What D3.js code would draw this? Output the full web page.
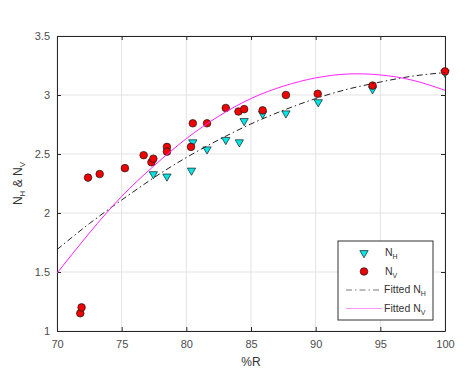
<!DOCTYPE html>
<html>
<head>
<meta charset="utf-8">
<script src="https://cdn.jsdelivr.net/npm/d3@7"></script>
<style>
  body { margin: 0; background: #fff; }
  svg { font-family: "Liberation Sans", Arial, sans-serif; }
</style>
</head>
<body>
<div id="chart"></div>
<script>
// Measured N_H values (%R, N)
const nhR = [77.45, 78.5, 80.4, 80.5, 81.6, 83.05, 84.1, 84.47, 85.9, 87.7, 90.2, 94.4, 100];
const nhVal = [2.33, 2.31, 2.36, 2.60, 2.54, 2.62, 2.60, 2.78, 2.84, 2.845, 2.94, 3.05, 3.19];

// Measured N_V values
const nvR = [71.8, 71.9, 72.4, 73.3, 75.25, 76.7, 77.3, 77.45, 78.5, 78.5, 80.36, 80.5, 81.6, 83.05, 84.03, 84.47, 85.9, 87.7, 90.16, 94.4, 100];
const nvVal = [1.15, 1.20, 2.30, 2.33, 2.38, 2.49, 2.43, 2.46, 2.56, 2.52, 2.56, 2.76, 2.76, 2.89, 2.86, 2.88, 2.87, 3.00, 3.01, 3.08, 3.20];

// Fitted curves, every 2.5 %R
const fitR = [70, 72.5, 75, 77.5, 80, 82.5, 85, 87.5, 90, 92.5, 95, 97.5, 100];
const fitNH = [1.69, 1.91, 2.11, 2.30, 2.47, 2.62, 2.755, 2.87, 2.97, 3.05, 3.11, 3.16, 3.19];
const fitNV = [1.49, 1.83, 2.14, 2.40, 2.63, 2.82, 2.97, 3.075, 3.145, 3.178, 3.17, 3.125, 3.04];

const xTicks = [70, 75, 80, 85, 90, 95, 100];
const yTicks = [1, 1.5, 2, 2.5, 3, 3.5];

const width = 467;
const height = 387;
const margin = { top: 36, right: 22, bottom: 56, left: 57 };
const innerW = width - margin.left - margin.right;
const innerH = height - margin.top - margin.bottom;

const axisColor = "#262626";
const gridColor = "#e3e3e3";

const svg = d3.select("#chart").append("svg").attr("width", width).attr("height", height);
const g = svg.append("g").attr("transform", `translate(${margin.left},${margin.top})`);

const x = d3.scaleLinear().domain([70, 100]).range([0, innerW]);
const y = d3.scaleLinear().domain([1, 3.5]).range([innerH, 0]);

// grid
g.append("g")
  .selectAll("line")
  .data(xTicks)
  .join("line")
  .attr("x1", (d) => x(d))
  .attr("x2", (d) => x(d))
  .attr("y1", 0)
  .attr("y2", innerH)
  .attr("stroke", gridColor);
g.append("g")
  .selectAll("line")
  .data(yTicks)
  .join("line")
  .attr("x1", 0)
  .attr("x2", innerW)
  .attr("y1", (d) => y(d))
  .attr("y2", (d) => y(d))
  .attr("stroke", gridColor);

// axes (ticks inward, box on)
function styleAxis(sel) {
  sel.select(".domain").attr("stroke", axisColor);
  sel.selectAll(".tick line").attr("stroke", axisColor);
  sel.selectAll(".tick text").attr("fill", "#4d4d4d").attr("font-size", 11);
}
g.append("g")
  .attr("transform", `translate(0,${innerH})`)
  .call(d3.axisBottom(x).tickValues(xTicks).tickSize(-4).tickSizeOuter(0).tickPadding(9).tickFormat(d3.format("d")))
  .call(styleAxis);
g.append("g")
  .call(d3.axisLeft(y).tickValues(yTicks).tickSize(-4).tickSizeOuter(0).tickPadding(7).tickFormat((d) => String(d)))
  .call(styleAxis);
g.append("g")
  .call(d3.axisTop(x).tickValues(xTicks).tickSize(-4).tickSizeOuter(0).tickFormat(""))
  .call(styleAxis);
g.append("g")
  .attr("transform", `translate(${innerW},0)`)
  .call(d3.axisRight(y).tickValues(yTicks).tickSize(-4).tickSizeOuter(0).tickFormat(""))
  .call(styleAxis);

// markers
const tri = d3.symbol().type(d3.symbolTriangle).size(30);
g.append("g")
  .selectAll("path")
  .data(nhR.map((r, i) => [r, nhVal[i]]))
  .join("path")
  .attr("d", tri)
  .attr("transform", (d) => `translate(${x(d[0])},${y(d[1])}) rotate(180)`)
  .attr("fill", "#00e6e6")
  .attr("stroke", "#1a1a1a")
  .attr("stroke-width", 0.7);

g.append("g")
  .selectAll("circle")
  .data(nvR.map((r, i) => [r, nvVal[i]]))
  .join("circle")
  .attr("cx", (d) => x(d[0]))
  .attr("cy", (d) => y(d[1]))
  .attr("r", 3.8)
  .attr("fill", "#f00000")
  .attr("stroke", "#1a1a1a")
  .attr("stroke-width", 0.7);

// fitted lines
const line = d3.line().curve(d3.curveNatural);
g.append("path")
  .datum(fitR.map((r, i) => [x(r), y(fitNH[i])]))
  .attr("d", line)
  .attr("fill", "none")
  .attr("stroke", "#222")
  .attr("stroke-width", 1)
  .attr("stroke-dasharray", "6,3,1.5,3");
g.append("path")
  .datum(fitR.map((r, i) => [x(r), y(fitNV[i])]))
  .attr("d", line)
  .attr("fill", "none")
  .attr("stroke", "#ff22ff")
  .attr("stroke-width", 1);

// axis labels
svg.append("text")
  .attr("x", margin.left + innerW / 2)
  .attr("y", 366)
  .attr("text-anchor", "middle")
  .attr("font-size", 12)
  .attr("fill", "#333")
  .text("%R");

const yl = svg.append("text")
  .attr("transform", `translate(22,${margin.top + innerH / 2}) rotate(-90)`)
  .attr("text-anchor", "middle")
  .attr("font-size", 12)
  .attr("fill", "#333");
yl.append("tspan").text("N");
yl.append("tspan").attr("font-size", 8).attr("dy", 3).text("H");
yl.append("tspan").attr("dy", -3).text(" & N");
yl.append("tspan").attr("font-size", 8).attr("dy", 3).text("V");

// legend
const lg = svg.append("g").attr("transform", "translate(338,241)");
lg.append("rect").attr("width", 95).attr("height", 79).attr("fill", "#fff").attr("stroke", "#333").attr("stroke-width", 1);

const legendItems = [
  { label: "N", sub: "H", kind: "tri", text: "" },
  { label: "N", sub: "V", kind: "circle", text: "" },
  { label: "Fitted N", sub: "H", kind: "dash" },
  { label: "Fitted N", sub: "V", kind: "pink" },
];
legendItems.forEach((item, i) => {
  const yy = 12 + i * 18.5;
  const row = lg.append("g").attr("transform", `translate(0,${yy})`);
  if (item.kind === "tri") {
    row.append("path").attr("d", tri).attr("transform", "translate(26,0) rotate(180)")
      .attr("fill", "#00e6e6").attr("stroke", "#1a1a1a").attr("stroke-width", 0.7);
  } else if (item.kind === "circle") {
    row.append("circle").attr("cx", 26).attr("cy", 0).attr("r", 3.8)
      .attr("fill", "#f00000").attr("stroke", "#1a1a1a").attr("stroke-width", 0.7);
  } else if (item.kind === "dash") {
    row.append("line").attr("x1", 8).attr("x2", 44).attr("y1", 0).attr("y2", 0)
      .attr("stroke", "#777").attr("stroke-dasharray", "6,3,1.5,3");
  } else {
    row.append("line").attr("x1", 8).attr("x2", 44).attr("y1", 0).attr("y2", 0)
      .attr("stroke", "#ff99ff").attr("stroke-width", 1.2);
  }
  const t = row.append("text")
    .attr("x", item.kind === "tri" || item.kind === "circle" ? 47 : 46)
    .attr("y", 3)
    .attr("font-size", 10.5)
    .attr("fill", "#333");
  t.append("tspan").text(item.label);
  t.append("tspan").attr("font-size", 7).attr("dy", 3).text(item.sub);
});
</script>
</body>
</html>
